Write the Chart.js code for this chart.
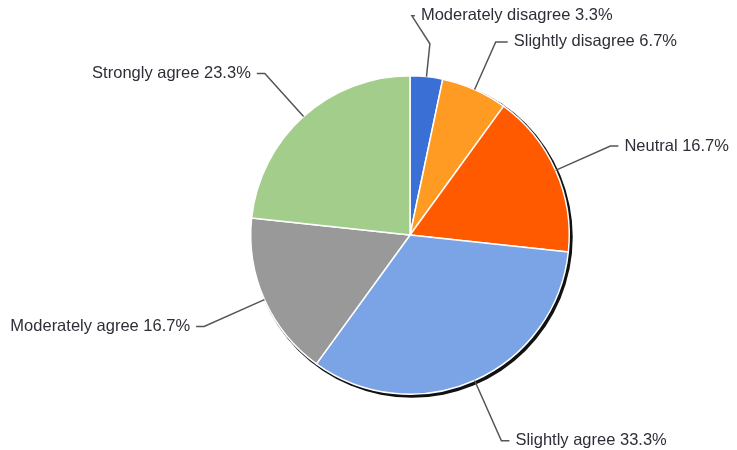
<!DOCTYPE html>
<html>
<head>
<meta charset="utf-8">
<script src="https://cdn.jsdelivr.net/npm/chart.js@4.4.1/dist/chart.umd.min.js"></script>
<style>
  html, body { margin: 0; padding: 0; background: #fff; }
  #wrap { width: 737px; height: 450px; }
</style>
</head>
<body>
<div id="wrap"><canvas id="pie_chart" width="737" height="450"></canvas></div>
<script>
// answers, clockwise from the top
var answer_labels = ['Moderately disagree', 'Slightly disagree', 'Neutral', 'Slightly agree', 'Moderately agree', 'Strongly agree'];
var answer_pct = [3.3, 6.7, 16.7, 33.3, 16.7, 23.3];
var answer_colors = ['#3a70d6', '#ff9a22', '#ff5a00', '#7ba4e6', '#999999', '#a3cd8b'];

// how each leader line leaves the pie (radial length, optional bend)
var leader_style = [
  {ext: 33, bend: [-18, -28], tick: 3},
  {ext: 52, tick: 12},
  {ext: 60, tick: 8},
  {ext: 66, tick: 8},
  {ext: 66, tick: 8},
  {ext: 58, tick: 8}
];

const shadowPlugin = {
  id: 'shadow',
  beforeDatasetsDraw(chart) {
    const arc = chart.getDatasetMeta(0).data[0];
    const ctx = chart.ctx;
    ctx.save();
    ctx.beginPath();
    ctx.arc(arc.x + 2, arc.y + 2, arc.outerRadius + 1.5, 0, Math.PI * 2);
    ctx.fillStyle = '#111';
    ctx.fill();
    ctx.restore();
  }
};

const leaderPlugin = {
  id: 'leaders',
  afterDatasetsDraw(chart) {
    const ctx = chart.ctx;
    const arcs = chart.getDatasetMeta(0).data;
    ctx.save();
    ctx.font = '16.5px "Liberation Sans", Arial, sans-serif';
    ctx.textBaseline = 'middle';
    arcs.forEach(function (arc, i) {
      const st = leader_style[i];
      const mid = (arc.startAngle + arc.endAngle) / 2;
      const r = arc.outerRadius;
      const x0 = arc.x + Math.cos(mid) * r;
      const y0 = arc.y + Math.sin(mid) * r;
      let x1 = arc.x + Math.cos(mid) * (r + st.ext);
      let y1 = arc.y + Math.sin(mid) * (r + st.ext);
      const right = Math.cos(mid) >= 0;
      ctx.beginPath();
      ctx.moveTo(x0, y0);
      ctx.lineTo(x1, y1);
      if (st.bend) {
        x1 += st.bend[0];
        y1 += st.bend[1];
        ctx.lineTo(x1, y1);
      }
      const x2 = x1 + (right ? st.tick : -st.tick);
      ctx.lineTo(x2, y1);
      ctx.strokeStyle = '#555';
      ctx.lineWidth = 1.5;
      ctx.stroke();
      const txt = answer_labels[i] + ' ' + answer_pct[i].toFixed(1) + '%';
      ctx.fillStyle = '#2e2e38';
      ctx.textAlign = right ? 'left' : 'right';
      ctx.fillText(txt, x2 + (right ? 6 : -6), y1);
    });
    ctx.restore();
  }
};

const config_pie = {
  type: 'pie',
  data: {
    labels: answer_labels,
    datasets: [{
      data: answer_pct,
      backgroundColor: answer_colors,
      borderColor: '#ffffff',
      borderWidth: 1.5
    }]
  },
  options: {
    responsive: false,
    animation: false,
    layout: {padding: {top: 75, bottom: 55, left: 250, right: 167}},
    plugins: {
      legend: {display: false},
      tooltip: {enabled: false}
    }
  },
  plugins: [shadowPlugin, leaderPlugin]
};

const myPie = new Chart(document.getElementById('pie_chart'), config_pie);
</script>
</body>
</html>
